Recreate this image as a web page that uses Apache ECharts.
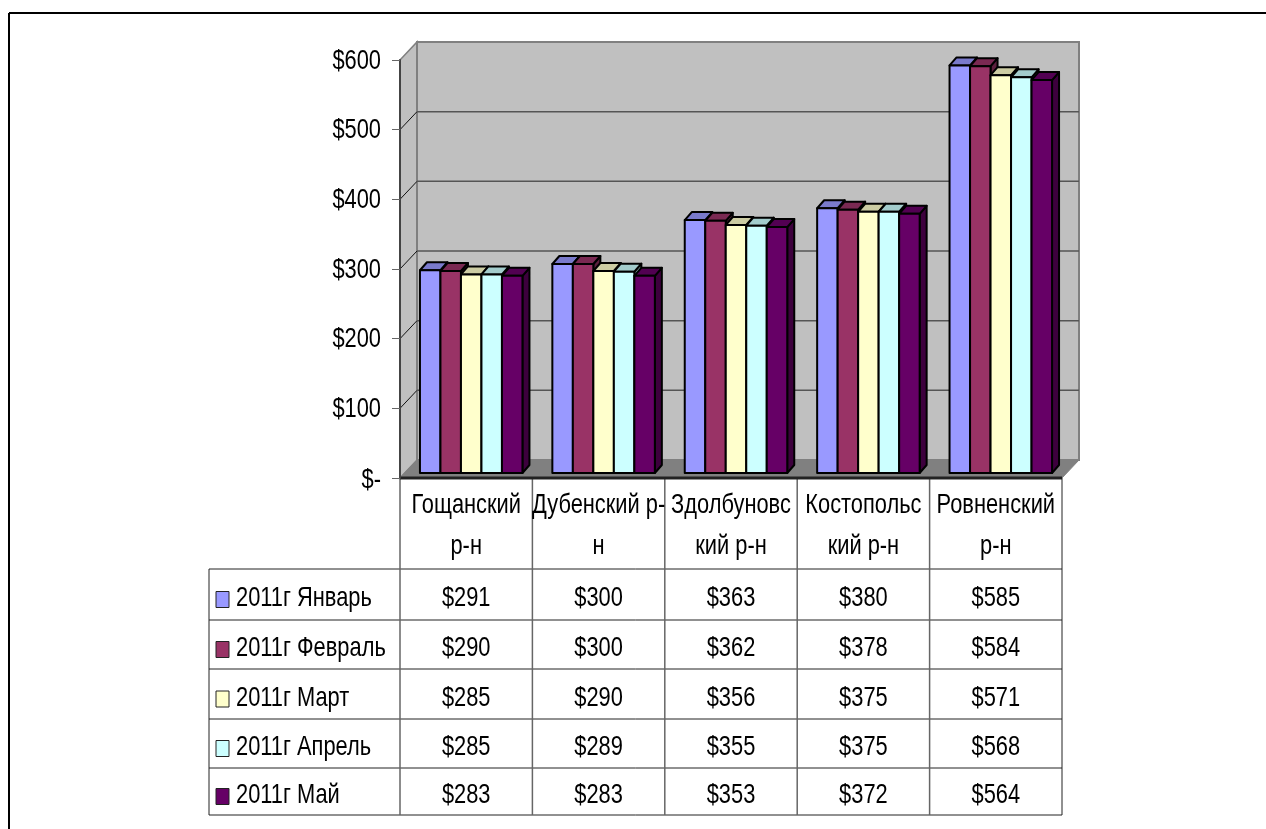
<!DOCTYPE html>
<html>
<head>
<meta charset="utf-8">
<style>
  html, body { margin: 0; padding: 0; background: #fff; }
  #main { width: 1266px; height: 829px; }
</style>
<script src="https://cdn.jsdelivr.net/npm/echarts@6/dist/echarts.min.js"></script>
</head>
<body>
<div id="main"></div>
<script>
const categories = ['Гощанский\nр-н', 'Дубенский р-\nн', 'Здолбуновс\nкий р-н', 'Костопольс\nкий р-н', 'Ровненский\nр-н']
const months = ['2011г Январь', '2011г Февраль', '2011г Март', '2011г Апрель', '2011г Май']
const jan = [291, 300, 363, 380, 585]
const feb = [290, 300, 362, 378, 584]
const mar = [285, 290, 356, 375, 571]
const apr = [285, 289, 355, 375, 568]
const may = [283, 283, 353, 372, 564]
const tickValues = [0, 100, 200, 300, 400, 500, 600]
const tickLabels = ['$-', '$100', '$200', '$300', '$400', '$500', '$600']
const colors = ['#9999ff', '#993366', '#ffffcc', '#ccffff', '#660066']
const tops = ['#7a7acc', '#7a2952', '#ccccA3', '#a3cccc', '#520052']
const sides = ['#5c5c99', '#5c1f3d', '#99997a', '#7a9999', '#3d003d']
const rows = [jan, feb, mar, apr, may]

const FONT = '"Liberation Sans", Arial, sans-serif'
const myChart = echarts.init(document.getElementById('main'), null, { renderer: 'canvas' })

// plot box of the front plane
const L = 400, R = 1062, T = 60, B = 478
const DX = 17, DY = 18 // depth of the walls
const colW = (R - L) / 5
const rowY = [478, 569, 620, 669, 719, 768, 815]
const TABLE_L = 209

function poly(points, style) {
  return { type: 'polygon', shape: { points }, style }
}

// the font in the picture is squeezed sideways, so text is scaled by hand
function text(str, x, y, align) {
  return {
    type: 'text', x, y, z: 11, scaleX: 0.78,
    style: { text: str, x: 0, y: 0, align, verticalAlign: 'middle', font: '28px ' + FONT, fill: '#000' }
  }
}

function renderWalls(params, api) {
  const y0 = api.coord([0, 0])[1]
  const y600 = api.coord([0, 600])[1]
  const xl = L, xr = R
  const ch = [
    poly([[xl, y600], [xl + DX, y600 - DY], [xl + DX, y0 - DY], [xl, y0]], { fill: '#c0c0c0', stroke: '#808080', lineWidth: 1.5 }),
    poly([[xl + DX, y600 - DY], [xr + DX, y600 - DY], [xr + DX, y0 - DY], [xl + DX, y0 - DY]], { fill: '#c0c0c0', stroke: '#808080', lineWidth: 2 }),
    poly([[xl, y0], [xl + DX, y0 - DY], [xr + DX, y0 - DY], [xr, y0]], { fill: '#808080', stroke: '#808080', lineWidth: 1 })
  ]
  tickValues.forEach((v, k) => {
    const y = api.coord([0, v])[1]
    if (v > 0 && v < 600) {
      ch.push({ type: 'line', shape: { x1: xl, y1: y, x2: xl + DX, y2: y - DY }, style: { stroke: '#111', lineWidth: 1 } })
      ch.push({ type: 'line', shape: { x1: xl + DX, y1: y - DY, x2: xr + DX, y2: y - DY }, style: { stroke: '#555', lineWidth: 1.5 } })
    }
    ch.push(text(tickLabels[k], 381, v === 0 ? y + 2 : y + 1, 'right'))
  })
  return { type: 'group', children: ch }
}

function renderBar(i) {
  return function (params, api) {
    const cat = api.value(0)
    const c = api.coord([cat, api.value(1)])
    const base = api.coord([cat, 0])
    const w = 20.5
    const x = c[0] + 5 + (i - 2.5) * w
    const y = c[1] - 5
    const yb = base[1] - 5
    const dx = 7, dy = 8
    const st = { stroke: '#000', lineWidth: 2, lineJoin: 'round' }
    return {
      type: 'group',
      children: [
        poly([[x + w, y], [x + w + dx, y - dy], [x + w + dx, yb - dy], [x + w, yb]], Object.assign({ fill: sides[i] }, st)),
        poly([[x, y], [x + dx, y - dy], [x + w + dx, y - dy], [x + w, y]], Object.assign({ fill: tops[i] }, st)),
        { type: 'rect', shape: { x, y, width: w, height: yb - y }, style: Object.assign({ fill: colors[i] }, st) }
      ]
    }
  }
}

function line(x1, y1, x2, y2, stroke, lineWidth) {
  return { type: 'line', shape: { x1, y1, x2, y2 }, style: { stroke, lineWidth }, z: 10 }
}

// table under the plot
const table = []
table.push(line(9, 13, 1266, 13, '#000', 2), line(9, 13, 9, 829, '#000', 2))
rowY.slice(1).forEach(y => table.push(line(TABLE_L, y, R, y, '#222', 1)))
table.push(line(TABLE_L, rowY[1], TABLE_L, rowY[6], '#222', 1))
table.push(line(L, rowY[0], L, rowY[6], '#666', 1.5))
for (let c = 1; c < 5; c++) table.push(line(L + c * colW, rowY[0], L + c * colW, rowY[6], '#666', 1.5))
table.push(line(R, rowY[0], R, rowY[6], '#222', 1))
table.push(line(L, B, R, B, '#222', 3))
categories.forEach((name, c) => {
  const cx = L + (c + 0.5) * colW
  name.split('\n').forEach((s, k) => table.push(text(s, cx, k === 0 ? 505 : 546, 'center')))
})
months.forEach((m, r) => {
  const cy = (rowY[r + 1] + rowY[r + 2]) / 2
  table.push({ type: 'rect', z: 11, shape: { x: 216, y: cy - 3, width: 13, height: 16 }, style: { fill: colors[r], stroke: '#222', lineWidth: 1 } })
  table.push(text(m, 236, cy + 4, 'left'))
  rows[r].forEach((v, c) => table.push(text('$' + v, L + (c + 0.5) * colW, cy + 4, 'center')))
})

const series = [{
  type: 'custom',
  renderItem: renderWalls,
  data: [[0, 0]],
  silent: true,
  clip: false,
  z: 1
}]
rows.forEach((vals, i) => {
  series.push({
    type: 'custom',
    name: months[i],
    renderItem: renderBar(i),
    data: vals.map((v, c) => [c, v]),
    z: 2 + i,
    clip: false
  })
})

const option = {
  animation: false,
  backgroundColor: '#fff',
  grid: { left: L, top: T, width: R - L, height: B - T },
  xAxis: {
    type: 'category',
    data: categories,
    axisLine: { show: false },
    axisTick: { show: false },
    axisLabel: { show: false },
    splitLine: { show: false }
  },
  yAxis: {
    type: 'value',
    min: 0,
    max: 600,
    interval: 100,
    z: 20,
    splitLine: { show: false },
    axisLine: { show: true, lineStyle: { color: '#444', width: 2 } },
    axisTick: { show: true, length: 8, lineStyle: { color: '#666', width: 1 } },
    axisLabel: { show: false }
  },
  graphic: { elements: table },
  series
}
myChart.setOption(option)
</script>
</body>
</html>
